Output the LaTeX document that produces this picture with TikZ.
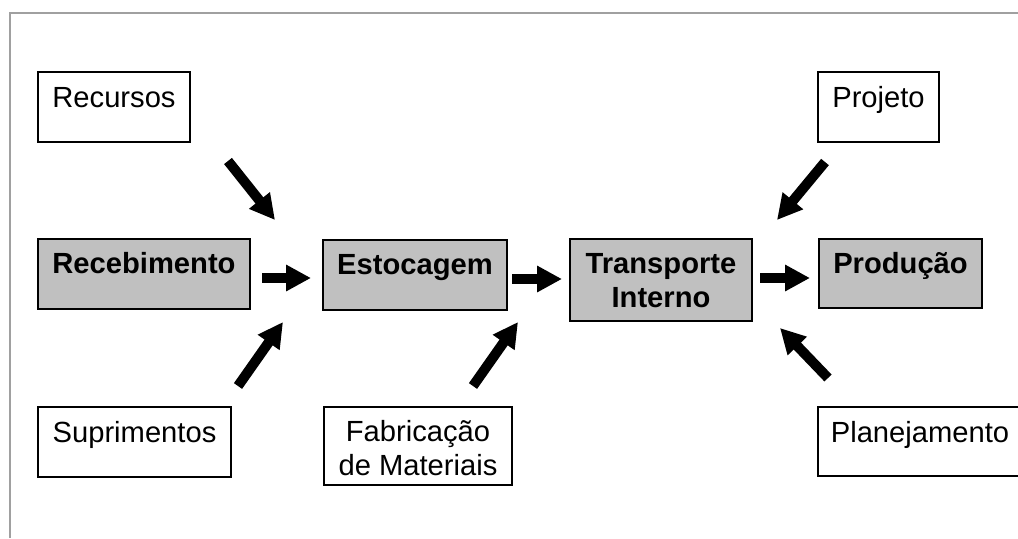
\documentclass[tikz,border=0pt]{standalone}
\usepackage{fontspec}
\setmainfont{Liberation Sans}
\usetikzlibrary{arrows.meta}
\definecolor{framegray}{HTML}{A0A0A0}
\definecolor{boxgray}{HTML}{C0C0C0}
\begin{document}
\begin{tikzpicture}[x=0.02cm,y=-0.02cm,
  plainbox/.style={draw=black,line width=1.1pt,fill=white,inner sep=0pt},
  mainbox/.style={draw=black,line width=1.1pt,fill=boxgray,inner sep=0pt},
  bsize/.style 2 args={minimum width={#1*0.02cm},minimum height={#2*0.02cm}},
  txt/.style={inner sep=0pt,align=center,font=\fontsize{16.6pt}{19.1pt}\selectfont},
  btxt/.style={txt,font=\fontsize{16.6pt}{19.1pt}\selectfont\bfseries},
  bigarrow/.style={line width=0.2cm,-{Triangle[length=0.5cm,width=0.5cm]}}]
\clip (0,0) rectangle (1018,538);
\useasboundingbox (0,0) rectangle (1018,538);
% frame
\draw[framegray,line width=1.2pt] (10,538) -- (10,13) -- (1018,13);
% boxes
\node[plainbox,bsize={152}{70}] (rec) at (114,107) {};
\node[plainbox,bsize={121}{70}] (proj) at (878.5,107) {};
\node[mainbox,bsize={212}{70}] (receb) at (144,274) {};
\node[mainbox,bsize={184}{70}] (esto) at (415,275) {};
\node[mainbox,bsize={182}{82}] (trans) at (661,280) {};
\node[mainbox,bsize={163}{69}] (prod) at (900.5,273.5) {};
\node[plainbox,bsize={193}{70}] (sup) at (134.5,442) {};
\node[plainbox,bsize={188}{78}] (fab) at (418,446) {};
\node[plainbox,bsize={204}{69}] (plan) at (920,441.5) {};
% texts
\node[txt,anchor=base] (trec) at (114,107) {Recursos};
\node[txt,anchor=base] (tproj) at (878.5,107) {Projeto};
\node[btxt,anchor=base] (treceb) at (144,273) {Recebimento};
\node[btxt,anchor=base] (testo) at (415,274) {Estocagem};
\node[btxt,anchor=base] (ttrans) at (661,307) {Transporte\\Interno};
\node[btxt,anchor=base] (tprod) at (900.5,273) {Produção};
\node[txt,anchor=base] (tsup) at (134.5,442) {Suprimentos};
\node[txt,anchor=base] (tfab) at (418,475) {Fabricação\\de Materiais};
\node[txt,anchor=base] (tplan) at (920,442) {Planejamento};
% arrow end points
\coordinate (a1s) at (262,278); \coordinate (a1e) at (311,278);
\coordinate (a2s) at (512,279); \coordinate (a2e) at (562,279);
\coordinate (a3s) at (760,278); \coordinate (a3e) at (810,278);
\coordinate (d1s) at (228,161); \coordinate (d1e) at (275,220);
\coordinate (d2s) at (238,386); \coordinate (d2e) at (283,322);
\coordinate (d3s) at (473,386); \coordinate (d3e) at (518,322);
\coordinate (d4s) at (825,162); \coordinate (d4e) at (777,220);
\coordinate (d5s) at (828,378); \coordinate (d5e) at (780,328);
% arrows
\draw[bigarrow] (a1s) -- (a1e);
\draw[bigarrow] (a2s) -- (a2e);
\draw[bigarrow] (a3s) -- (a3e);
\draw[bigarrow] (d1s) -- (d1e);
\draw[bigarrow] (d2s) -- (d2e);
\draw[bigarrow] (d3s) -- (d3e);
\draw[bigarrow] (d4s) -- (d4e);
\draw[bigarrow] (d5s) -- (d5e);
\end{tikzpicture}
\end{document}
